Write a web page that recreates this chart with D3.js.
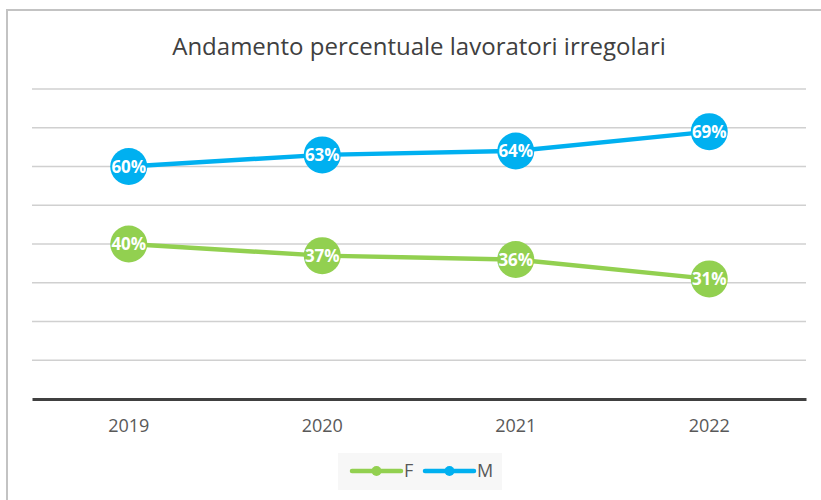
<!DOCTYPE html>
<html>
<head>
<meta charset="utf-8">
<script src="https://cdn.jsdelivr.net/npm/d3@7"></script>
<style>
  body { margin: 0; background: #fff; }
  text { font-family: "Open Sans", "Noto Sans", sans-serif; }
</style>
</head>
<body>
<script>
// chart data
var years = ['2019', '2020', '2021', '2022'];
var valuesF = [40, 37, 36, 31];
var valuesM = [60, 63, 64, 69];
var seriesNames = ['F', 'M'];
var seriesColors = ['#92d050', '#00b0f0'];
var yTicks = [0, 10, 20, 30, 40, 50, 60, 70, 80];

var width = 821,
    height = 500;

var svg = d3.select('body').append('svg')
    .attr('width', width)
    .attr('height', height);

// outer frame (only top and left edges visible)
svg.append('path')
    .attr('d', 'M7,500 L7,10 L821,10')
    .attr('fill', 'none')
    .attr('stroke', '#c3c3c3')
    .attr('stroke-width', 2);

svg.append('text')
    .attr('x', 419)
    .attr('y', 55)
    .attr('text-anchor', 'middle')
    .attr('font-size', 24)
    .attr('fill', '#404040')
    .text('Andamento percentuale lavoratori irregolari');

var x = d3.scaleBand()
    .domain(years)
    .range([32, 806]);

var y = d3.scaleLinear()
    .domain([0, 80])
    .range([399, 89]);

// gridlines
svg.selectAll('.grid')
    .data(yTicks.slice(1))
    .enter()
    .append('line')
    .attr('class', 'grid')
    .attr('x1', 32)
    .attr('x2', 806)
    .attr('y1', function(d){ return y(d); })
    .attr('y2', function(d){ return y(d); })
    .attr('stroke', '#d0d0d0')
    .attr('stroke-width', 1.5);

// x axis
var xAxis = svg.append('g')
    .attr('transform', 'translate(0,399)')
    .call(d3.axisBottom(x).tickSize(0).tickPadding(20));

xAxis.select('.domain')
    .attr('stroke', '#404040')
    .attr('stroke-width', 3);

xAxis.selectAll('text')
    .attr('font-size', 18)
    .attr('fill', '#595959')
    .style('font-family', '"Open Sans", sans-serif');

var series = [valuesF, valuesM];

var line = d3.line()
    .x(function(d, i){ return x(years[i]) + x.bandwidth() / 2; })
    .y(function(d){ return y(d); });

series.forEach(function(vals, s){
  svg.append('path')
      .datum(vals)
      .attr('d', line)
      .attr('fill', 'none')
      .attr('stroke', seriesColors[s])
      .attr('stroke-width', 4.5)
      .attr('stroke-linejoin', 'round');

  var pts = svg.selectAll('.pt' + s)
      .data(vals)
      .enter()
      .append('g')
      .attr('transform', function(d, i){
        return 'translate(' + (x(years[i]) + x.bandwidth() / 2) + ',' + y(d) + ')';
      });

  pts.append('circle')
      .attr('r', 18.5)
      .attr('fill', seriesColors[s]);

  pts.append('text')
      .attr('text-anchor', 'middle')
      .attr('dy', '0.36em')
      .attr('font-size', 17)
      .attr('font-weight', 'bold')
      .attr('fill', '#fff')
      .text(function(d){ return d + '%'; });
});

// legend
svg.append('rect')
    .attr('x', 338)
    .attr('y', 453)
    .attr('width', 164)
    .attr('height', 37)
    .attr('fill', '#f7f7f7');

var legend = svg.selectAll('.legend')
    .data(seriesNames)
    .enter()
    .append('g')
    .attr('transform', function(d, i){ return 'translate(' + (352 + i * 73) + ',471)'; });

legend.append('line')
    .attr('x1', 0)
    .attr('x2', 49)
    .attr('stroke', function(d, i){ return seriesColors[i]; })
    .attr('stroke-width', 4.5)
    .attr('stroke-linecap', 'round');

legend.append('circle')
    .attr('cx', 24.5)
    .attr('r', 5)
    .attr('fill', function(d, i){ return seriesColors[i]; });

legend.append('text')
    .attr('x', 52)
    .attr('dy', '0.36em')
    .attr('font-size', 18)
    .attr('fill', '#595959')
    .text(function(d){ return d; });
</script>
</body>
</html>
